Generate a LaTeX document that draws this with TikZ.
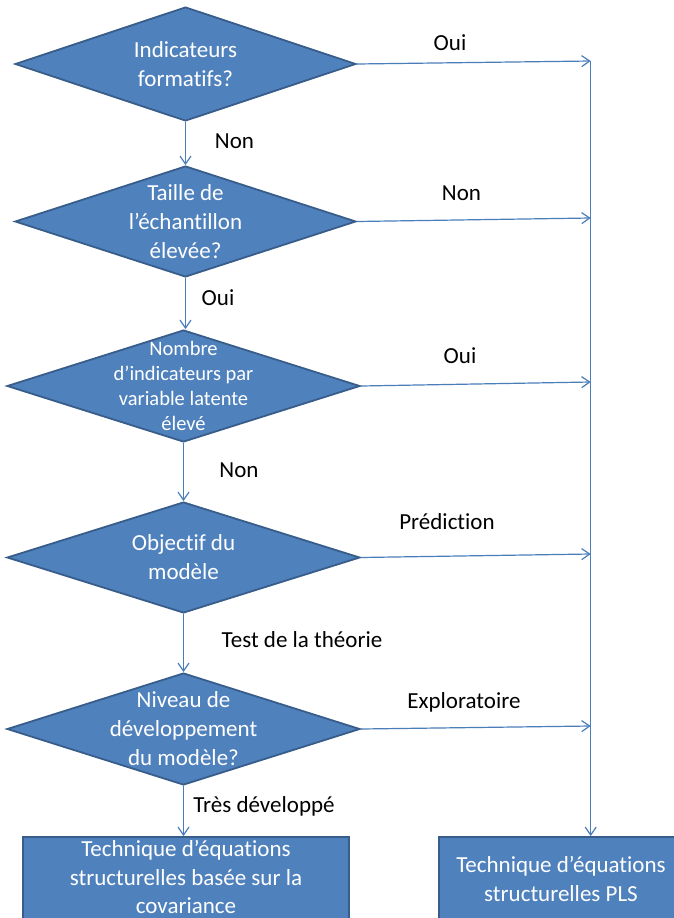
\documentclass[tikz,border=0pt]{standalone}
\usepackage{fontspec}
\setmainfont{Carlito}[Ligatures={NoCommon,NoContextual}]
\usetikzlibrary{shapes.geometric,arrows.meta}
\definecolor{boxfill}{HTML}{4F81BD}
\definecolor{boxdraw}{HTML}{385D8A}
\definecolor{linec}{HTML}{4A7EBB}
\begin{document}
\begin{tikzpicture}[x=1pt,y=-1pt,
  dia/.style={diamond,draw=boxdraw,fill=boxfill,line width=1.8pt,inner sep=0pt,minimum width=#1},
  dtext/.style={text=white,align=center,font=\fontsize{23}{29}\selectfont},
  stext/.style={text=white,align=center,font=\fontsize{20.5}{25}\selectfont},
  rbox/.style={rectangle,draw=boxdraw,fill=boxfill,line width=1.8pt,minimum height=84pt},
  btext/.style={text=white,align=center,font=\fontsize{23}{28.5}\selectfont,inner sep=0pt},
  lab/.style={anchor=base,text=black,font=\fontsize{23}{29}\selectfont,inner sep=0pt},
  conn/.style={draw=linec,line width=1.2pt,-{Straight Barb[length=8pt,width=11pt]}}]
\useasboundingbox (0,0) rectangle (673,918);
\fill[white] (0,0) rectangle (673,918);

% diamonds
\node[dia=341pt,minimum height=114pt] (d1) at (185.5,64) {};
\node[dtext] (t1) at (d1) {Indicateurs\\formatifs?};
\node[dia=341pt,minimum height=111pt] (d2) at (185.5,221.5) {};
\node[dtext] (t2) at (d2) {Taille de\\l’échantillon\\élevée?};
\node[dia=353pt,minimum height=112pt] (d3) at (183.5,386) {};
\node[stext] (t3) at (d3) {Nombre\\d’indicateurs par\\variable latente\\élevé};
\node[dia=353pt,minimum height=111pt] (d4) at (183.5,557.5) {};
\node[dtext] (t4) at (d4) {Objectif du\\modèle};
\node[dia=353pt,minimum height=112pt] (d5) at (183.5,729) {};
\node[dtext] (t5) at (d5) {Niveau de\\développement\\du modèle?};

% boxes
\node[rbox,minimum width=326pt] (b1) at (186,879) {};
\node[btext] (bt1) at (186,877) {Technique d’équations\\structurelles basée sur la\\covariance};
\node[rbox,minimum width=244pt] (b2) at (561,879) {};
\node[btext] (bt2) at (561,879) {Technique d’équations\\structurelles PLS};

% right-side coordinates
\coordinate (r1) at (590.7,61);
\coordinate (r2) at (590.7,218);
\coordinate (r3) at (590.7,382);
\coordinate (r4) at (590.7,554);
\coordinate (r5) at (590.7,726);

% connectors
\draw[conn] (d1.south) -- (d1.south |- d2.north);
\draw[conn] (d2.south) -- (d2.south |- d3.north);
\draw[conn] (d3.south) -- (d3.south |- d4.north);
\draw[conn] (d4.south) -- (d4.south |- d5.north);
\draw[conn] (d5.south) -- (d5.south |- b1.north);

\draw[conn] (d1.east) -- (r1);
\draw[conn] (d2.east) -- (r2);
\draw[conn] (d3.east) -- (r3);
\draw[conn] (d4.east) -- (r4);
\draw[conn] (d5.east) -- (r5);
\draw[conn] (r1) -- (r1 |- b2.north);

% labels
\node[lab] (l1) at (450,50) {Oui};
\node[lab] (l2) at (234.5,148) {Non};
\node[lab] (l3) at (461.5,200) {Non};
\node[lab] (l4) at (218,305) {Oui};
\node[lab] (l5) at (460,363) {Oui};
\node[lab] (l6) at (239,477) {Non};
\node[lab] (l7) at (447,529) {Prédiction};
\node[lab] (l8) at (302,647) {Test de la théorie};
\node[lab] (l9) at (464,708) {Exploratoire};
\node[lab] (l10) at (264,812) {Très développé};
\end{tikzpicture}
\end{document}
